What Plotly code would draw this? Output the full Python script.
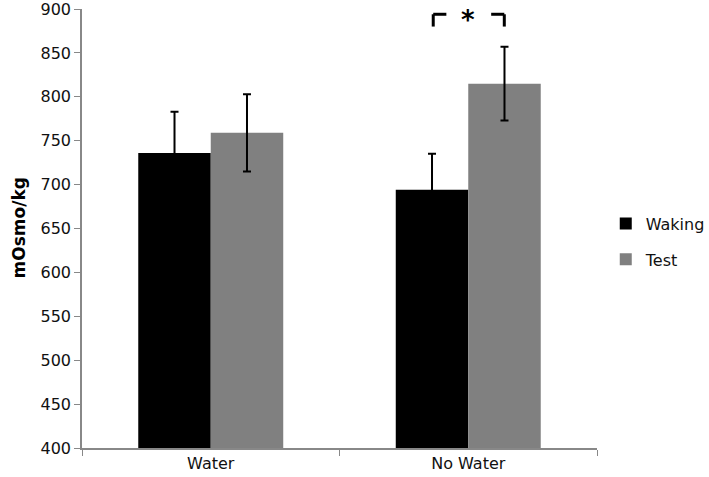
import plotly.graph_objects as go

categories = ["Water", "No Water"]
waking = [736, 694]
waking_err = [47, 41]
test = [759, 815]
test_err = [44, 42]
y_ticks = [400, 450, 500, 550, 600, 650, 700, 750, 800, 850, 900]

FONT = "DejaVu Sans, Liberation Sans, Arial"

fig = go.Figure()
fig.add_trace(go.Bar(
    name="Waking", x=categories, y=waking, legendgroup="w",
    marker=dict(color="#000000", line=dict(width=0)),
    error_y=dict(type="data", array=waking_err, color="#000000", thickness=2, width=4),
))
fig.add_trace(go.Bar(
    name="Test", x=categories, y=test, legendgroup="t",
    marker=dict(color="#808080", line=dict(width=0)),
    error_y=dict(type="data", array=test_err, color="#000000", thickness=2, width=4),
))

# significance bracket over "No Water"
bl = dict(color="#000000", width=3)
fig.add_shape(type="line", xref="x", yref="y", x0=1 - 0.136, x1=1 - 0.085, y0=894, y1=894, line=bl)
fig.add_shape(type="line", xref="x", yref="y", x0=1 - 0.136, x1=1 - 0.136, y0=894, y1=880, line=bl)
fig.add_shape(type="line", xref="x", yref="y", x0=1 + 0.089, x1=1 + 0.14, y0=894, y1=894, line=bl)
fig.add_shape(type="line", xref="x", yref="y", x0=1 + 0.14, x1=1 + 0.14, y0=894, y1=880, line=bl)
fig.add_annotation(x=1, y=887, xref="x", yref="y", text="<b>*</b>", showarrow=False,
                   font=dict(size=26, color="#000000", family=FONT))

# y-axis title (centre at ~18px from the left edge)
fig.add_annotation(x=(18 - 82) / 515, y=0.5, xref="paper", yref="paper",
                   xanchor="center", yanchor="middle",
                   text="<b>mOsmo/kg</b>", textangle=-90, showarrow=False,
                   font=dict(size=17, color="#000000", family=FONT))

fig.update_layout(
    width=709, height=477,
    margin=dict(l=82, r=112, t=9, b=29, autoexpand=False),
    paper_bgcolor="white", plot_bgcolor="white",
    barmode="group", bargap=0.437, bargroupgap=0,
    font=dict(family=FONT, size=16, color="#111111"),
    legend=dict(x=1.017, y=0.47, xanchor="left", yanchor="middle",
                font=dict(size=16), tracegroupgap=12, itemwidth=30),
    xaxis=dict(showline=True, linecolor="#888888", linewidth=1.5, automargin=False,
               ticks="outside", tickson="boundaries", ticklen=6, tickcolor="#888888",
               showgrid=False, tickfont=dict(size=16)),
    yaxis=dict(range=[400, 900], tickvals=y_ticks, showline=True, linecolor="#888888",
               linewidth=1.5, ticks="outside", ticklen=6, tickcolor="#888888", automargin=False,
               showgrid=False, zeroline=False, tickfont=dict(size=16),
               ticklabeloverflow="allow"),
)

fig.write_html(
    "out.html",
    config={"displayModeBar": False},
    post_script="document.body.style.margin='0';document.body.style.overflow='hidden';",
)
